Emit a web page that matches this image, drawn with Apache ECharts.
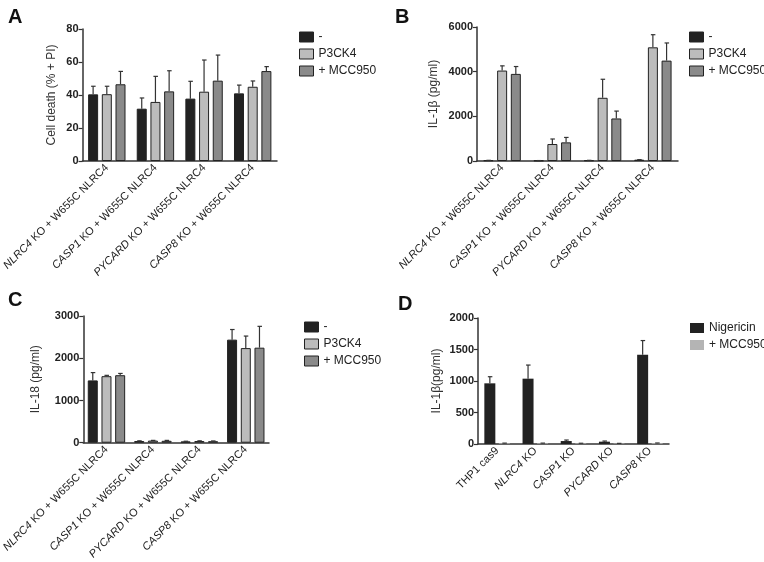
<!DOCTYPE html>
<html>
<head>
<meta charset="utf-8">
<script src="https://cdn.jsdelivr.net/npm/echarts@6/dist/echarts.min.js"></script>
<style>html,body{margin:0;padding:0;background:#fff}#c{width:764px;height:562px}</style>
</head>
<body>
<div id="c"></div>
<script>
// ---- Data ----
const catsABC = ['NLRC4 KO + W655C NLRC4', 'CASP1 KO + W655C NLRC4', 'PYCARD KO + W655C NLRC4', 'CASP8 KO + W655C NLRC4'];
const seriesNamesABC = ['-', 'P3CK4', '+ MCC950'];

// Panel A: Cell death (% + PI)
const aNone = [40.4, 31.7, 37.8, 41.0];
const aNoneErr = [45.3, 38.2, 48.3, 46.0];
const aP3 = [40.5, 35.8, 42.0, 45.0];
const aP3Err = [45.3, 51.3, 61.2, 48.5];
const aMcc = [46.5, 42.2, 48.7, 54.5];
const aMccErr = [54.3, 54.7, 64.2, 57.2];

// Panel B: IL-1β (pg/ml)
const bNone = [30, 20, 30, 60];
const bNoneErr = [30, 20, 30, 60];
const bP3 = [4050, 760, 2830, 5090];
const bP3Err = [4260, 985, 3660, 5655];
const bMcc = [3900, 835, 1905, 4495];
const bMccErr = [4230, 1055, 2235, 5285];

// Panel C: IL-18 (pg/ml)
const cNone = [1475, 40, 30, 2440];
const cNoneErr = [1660, 45, 35, 2680];
const cP3 = [1575, 50, 40, 2240];
const cP3Err = [1595, 55, 45, 2525];
const cMcc = [1598, 45, 35, 2250];
const cMccErr = [1640, 55, 42, 2755];

// Panel D: IL-1β (pg/ml)
const catsD = ['THP1 cas9', 'NLRC4 KO', 'CASP1 KO', 'PYCARD KO', 'CASP8 KO'];
const seriesNamesD = ['Nigericin', '+ MCC950'];
const dNig = [963, 1037, 47, 37, 1416];
const dNigErr = [1068, 1253, 63, 47, 1642];
const dMcc = [10, 10, 9, 8, 12];
const dMccErr = [14, 14, 12, 10, 16];

const yTicksA = [0, 80, 20];
const yTicksB = [0, 6000, 2000];
const yTicksC = [0, 3000, 1000];
const yTicksD = [0, 2000, 500];

// ---- Styles ----
const FONT = 'Liberation Sans, Arial, sans-serif';
const colorsABC = ['#222222', '#bcbcbc', '#8a8a8a'];
const colorsD = ['#222222', '#b4b4b4'];
const axisColor = '#333';

function errSeries(name, gridIdx, vals, errs, offset, z) {
  return {
    type: 'custom', name: name + ' err', xAxisIndex: gridIdx, yAxisIndex: gridIdx, z: z || 5,
    silent: true,
    data: vals.map((v, i) => [i, v, errs[i]]),
    encode: { x: 0, y: [1, 2] },
    renderItem: function (params, api) {
      const base = api.coord([api.value(0), api.value(1)]);
      const top = api.coord([api.value(0), api.value(2)]);
      const x = base[0] + offset;
      return {
        type: 'group',
        children: [
          { type: 'line', shape: { x1: x, y1: base[1], x2: x, y2: top[1] }, style: { stroke: '#333', lineWidth: 1.2 } },
          { type: 'line', shape: { x1: x - 2, y1: top[1], x2: x + 2.5, y2: top[1] }, style: { stroke: '#333', lineWidth: 1.2 } }
        ]
      };
    }
  };
}

function barSeries(name, gridIdx, vals, color, width, gap, border) {
  return {
    type: 'bar', name: name, xAxisIndex: gridIdx, yAxisIndex: gridIdx,
    data: vals, barWidth: width, barGap: gap,
    itemStyle: { color: color, borderColor: border ? '#222' : color, borderWidth: border ? 1 : 0 },
    z: 3
  };
}

const grids = [
  { left: 78, top: 29, width: 199, height: 132 },
  { left: 477, top: 27, width: 201, height: 134 },
  { left: 76, top: 316, width: 193, height: 129 },
  { left: 478, top: 318, width: 191, height: 126 }
];

function xAxis(idx, cats) {
  return {
    type: 'category', gridIndex: idx, data: cats,
    axisLine: { lineStyle: { color: axisColor, width: 1.5 } },
    axisTick: { alignWithLabel: true, length: 4, lineStyle: { color: axisColor, width: 1.2 } },
    axisLabel: {
      rotate: 45, margin: 5, interval: 0, color: '#222', fontSize: 11, fontFamily: FONT,
      formatter: function (v) {
        const sp = v.indexOf(' ');
        if (v.indexOf('THP1') === 0) return v;
        return '{i|' + v.slice(0, sp) + '}' + v.slice(sp);
      },
      rich: { i: { fontStyle: 'italic', fontSize: 11, fontFamily: FONT, color: '#222' } }
    }
  };
}

function yAxis(idx, t, name, gap) {
  return {
    type: 'value', gridIndex: idx, min: t[0], max: t[1], interval: t[2],
    name: name, nameLocation: 'middle', nameGap: gap, nameRotate: 90,
    nameTextStyle: { fontSize: 12, color: '#333', fontFamily: FONT },
    splitLine: { show: false },
    axisLine: { show: true, lineStyle: { color: axisColor, width: 1.5 } },
    axisTick: { show: true, length: 4, lineStyle: { color: axisColor, width: 1.2 } },
    axisLabel: { fontSize: 11, fontWeight: 'bold', color: '#222', fontFamily: FONT, margin: 4,
      formatter: function (v) { return String(v); } }
  };
}

function legend(left, top, names, colors, border) {
  return {
    left: left, top: top, orient: 'vertical', itemWidth: 14, itemHeight: 10, itemGap: 5,
    selectedMode: false,
    textStyle: { fontSize: 12, color: '#222', fontFamily: FONT },
    data: names.map((n, i) => ({
      name: n, icon: 'rect',
      itemStyle: { color: colors[i], borderColor: border ? '#222' : colors[i], borderWidth: border ? 1 : 0 }
    }))
  };
}

const series = [];
const panelsABC = [
  [aNone, aNoneErr, aP3, aP3Err, aMcc, aMccErr],
  [bNone, bNoneErr, bP3, bP3Err, bMcc, bMccErr],
  [cNone, cNoneErr, cP3, cP3Err, cMcc, cMccErr]
];
const offsABC = [-13.7, 0, 13.7];
panelsABC.forEach((p, g) => {
  for (let s = 0; s < 3; s++) {
    series.push(barSeries(seriesNamesABC[s], g, p[s * 2], colorsABC[s], 10, '37%', true));
    series.push(errSeries(seriesNamesABC[s], g, p[s * 2], p[s * 2 + 1], offsABC[s]));
  }
});
series.push(barSeries('Nigericin', 3, dNig, colorsD[0], 11, '32%', false));
series.push(errSeries('Nigericin', 3, dNig, dNigErr, -7.25));
series.push(barSeries('+ MCC950 ', 3, dMcc, colorsD[1], 11, '32%', false));
series.push(errSeries('+ MCC950 ', 3, dMcc, dMccErr, 7.25));

const chart = echarts.init(document.getElementById('c'), null, { renderer: 'canvas' });
chart.setOption({
  animation: false,
  backgroundColor: '#fff',
  grid: grids,
  xAxis: [xAxis(0, catsABC), xAxis(1, catsABC), xAxis(2, catsABC), xAxis(3, catsD)],
  yAxis: [
    yAxis(0, yTicksA, 'Cell death (% + PI)', 25),
    yAxis(1, yTicksB, 'IL-1\u03b2 (pg/ml)', 37),
    yAxis(2, yTicksC, 'IL-18 (pg/ml)', 42),
    yAxis(3, yTicksD, 'IL-1\u03b2(pg/ml)', 35)
  ],
  legend: [
    legend(294, 26, seriesNamesABC, colorsABC, true),
    legend(684, 26, seriesNamesABC, colorsABC, true),
    legend(299, 316, seriesNamesABC, colorsABC, true),
    legend(685, 317, ['Nigericin', '+ MCC950 '], colorsD, false)
  ],
  graphic: [
    { type: 'text', left: 8, top: 7, style: { text: 'A', fontSize: 20, fontWeight: 'bold', fontFamily: FONT, fill: '#111' } },
    { type: 'text', left: 395, top: 7, style: { text: 'B', fontSize: 20, fontWeight: 'bold', fontFamily: FONT, fill: '#111' } },
    { type: 'text', left: 8, top: 290, style: { text: 'C', fontSize: 20, fontWeight: 'bold', fontFamily: FONT, fill: '#111' } },
    { type: 'text', left: 398, top: 294, style: { text: 'D', fontSize: 20, fontWeight: 'bold', fontFamily: FONT, fill: '#111' } }
  ],
  series: series
});
</script>
</body>
</html>
